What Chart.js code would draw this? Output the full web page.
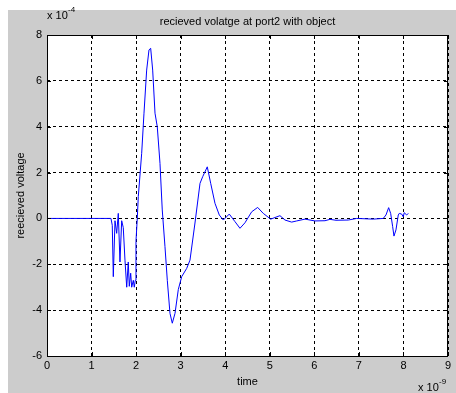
<!DOCTYPE html>
<html>
<head>
    <script src="https://cdn.jsdelivr.net/npm/chart.js@4.4.0/dist/chart.umd.min.js"></script>
    <title>recieved volatge at port2</title>
    <style>
        body { margin: 0; background: #fff; }
        #wrap { width: 456px; height: 393px; }
    </style>
</head>

<body>
<div id="wrap">
<canvas id="myChart" width="456" height="393"></canvas>
</div>

<script>
    // time in units of 1e-9 s, voltage in units of 1e-4
    var timeNs = [0, 1.436, 1.465, 1.488, 1.526, 1.564, 1.600, 1.638, 1.676, 1.712,
        1.750, 1.789, 1.824, 1.847, 1.878, 1.901, 1.937, 1.959, 1.982, 1.997,
        2.026, 2.049, 2.125, 2.177, 2.237, 2.289, 2.327, 2.372, 2.424, 2.475,
        2.536, 2.587, 2.648, 2.700, 2.760, 2.812, 2.873, 2.947, 3.023, 3.135,
        3.209, 3.321, 3.434, 3.494, 3.597, 3.674, 3.770, 3.867, 3.957, 4.091,
        4.219, 4.331, 4.443, 4.594, 4.728, 4.854, 5.020, 5.229, 5.341, 5.491,
        5.604, 5.790, 6.014, 6.239, 6.351, 6.486, 6.762, 6.950, 7.323, 7.547,
        7.608, 7.668, 7.713, 7.758, 7.787, 7.832, 7.884, 7.906, 7.960, 7.996,
        8.018, 8.072, 8.108];
    var voltage = [0, 0, -0.3, -2.54, -0.1, -0.65, 0.22, -1.9, -0.1, -0.4,
        -1.82, -3.0, -1.9, -2.96, -2.39, -3.0, -2.7, -3.0, -2.7, -1.0,
        0.0, 0.95, 2.84, 4.59, 6.47, 7.35, 7.42, 6.47, 4.59, 4.0,
        2.4, 0.37, -1.23, -2.7, -4.14, -4.57, -4.14, -3.1, -2.54, -2.18,
        -1.82, -0.2, 1.53, 1.82, 2.25, 1.53, 0.66, 0.15, -0.07, 0.19,
        -0.14, -0.43, -0.19, 0.29, 0.48, 0.22, -0.03, 0.12, -0.07, -0.16,
        -0.11, -0.03, -0.11, -0.1, -0.04, -0.08, -0.07, 0, -0.03, 0,
        0.15, 0.47, 0.22, -0.36, -0.77, -0.5, 0.15, 0.22, 0.19, 0.07,
        0.25, 0.15, 0.22];

    var xTicks = [0, 1, 2, 3, 4, 5, 6, 7, 8, 9];
    var yTicks = [-6, -4, -2, 0, 2, 4, 6, 8];

    var points = [];
    for (var i = 0; i < timeNs.length; i++) {
        points.push({x: timeNs[i], y: voltage[i]});
    }

    var fontFam = '"Liberation Sans", Arial, Helvetica, sans-serif';

    // gray figure, white axes, box with inward ticks, exponent labels
    var matlabFrame = {
        id: 'matlabFrame',
        beforeDraw: function(chart) {
            var ctx = chart.ctx, a = chart.chartArea;
            ctx.save();
            ctx.fillStyle = '#fff';
            ctx.fillRect(0, 0, chart.width, chart.height);
            ctx.fillStyle = '#cccccc';
            ctx.fillRect(8, 10, chart.width - 8, chart.height - 10);
            ctx.fillStyle = '#fff';
            ctx.fillRect(a.left, a.top, a.right - a.left, a.bottom - a.top);
            ctx.restore();
        },
        afterDraw: function(chart) {
            var ctx = chart.ctx, a = chart.chartArea;
            var xs = chart.scales.x, ys = chart.scales.y;
            ctx.save();
            ctx.strokeStyle = '#000';
            ctx.lineWidth = 1;
            ctx.strokeRect(Math.round(a.left) + 0.5, Math.round(a.top) + 0.5,
                Math.round(a.right - a.left) - 1, Math.round(a.bottom - a.top));
            ctx.beginPath();
            xTicks.forEach(function(v) {
                var px = Math.round(xs.getPixelForValue(v)) + 0.5;
                ctx.moveTo(px, a.bottom); ctx.lineTo(px, a.bottom - 4);
                ctx.moveTo(px, a.top); ctx.lineTo(px, a.top + 4);
            });
            yTicks.forEach(function(v) {
                var py = Math.round(ys.getPixelForValue(v)) + 0.5;
                ctx.moveTo(a.left, py); ctx.lineTo(a.left + 4, py);
                ctx.moveTo(a.right, py); ctx.lineTo(a.right - 4, py);
            });
            ctx.stroke();

            ctx.fillStyle = '#000';
            ctx.textBaseline = 'middle';
            ctx.textAlign = 'left';
            ctx.font = '11px ' + fontFam;
            ctx.fillText('x 10', 47, 16);
            ctx.fillText('x 10', 418, 388);
            ctx.font = '8px ' + fontFam;
            ctx.fillText('-4', 68, 10);
            ctx.fillText('-9', 439, 382);
            ctx.restore();
        }
    };

    var ctx = document.getElementById('myChart').getContext('2d');
    var myChart = new Chart(ctx, {
        type: 'line',
        data: {
            datasets: [
                {
                    label: 'voltage',
                    data: points,
                    borderColor: '#0000ff',
                    backgroundColor: '#0000ff',
                    borderWidth: 1,
                    pointRadius: 0,
                    tension: 0,
                    fill: false
                }
            ]
        },
        options: {
            responsive: false,
            animation: false,
            layout: {
                padding: {left: 0, top: 0, right: 8, bottom: 0}
            },
            scales: {
                x: {
                    type: 'linear',
                    min: 0,
                    max: 9,
                    afterBuildTicks: function(s) {
                        s.ticks = xTicks.map(function(v) { return {value: v}; });
                    },
                    afterFit: function(s) { s.height = 37; },
                    ticks: {
                        color: '#000',
                        padding: 3,
                        maxRotation: 0,
                        font: {family: fontFam, size: 11}
                    },
                    grid: {
                        color: '#000',
                        lineWidth: 1,
                        drawTicks: false
                    },
                    border: {display: false, dash: [3, 3]},
                    title: {
                        display: true,
                        text: 'time',
                        color: '#000',
                        padding: {top: 0, bottom: 4},
                        font: {family: fontFam, size: 11}
                    }
                },
                y: {
                    min: -6,
                    max: 8,
                    afterBuildTicks: function(s) {
                        s.ticks = yTicks.map(function(v) { return {value: v}; });
                    },
                    afterFit: function(s) { s.width = 47; },
                    ticks: {
                        color: '#000',
                        padding: 5,
                        font: {family: fontFam, size: 11}
                    },
                    grid: {
                        color: '#000',
                        lineWidth: 1,
                        drawTicks: false
                    },
                    border: {display: false, dash: [3, 3]},
                    title: {
                        display: true,
                        text: 'reecieved voltage',
                        color: '#000',
                        padding: {top: 14, bottom: 0},
                        font: {family: fontFam, size: 11}
                    }
                }
            },
            plugins: {
                legend: {display: false},
                tooltip: {enabled: false},
                title: {
                    display: true,
                    text: 'recieved volatge at port2 with object',
                    color: '#000',
                    fullSize: false,
                    padding: {top: 15, bottom: 6.8},
                    font: {family: fontFam, size: 11, weight: 'normal'}
                }
            }
        },
        plugins: [matlabFrame]
    });
</script>

</body>
</html>
